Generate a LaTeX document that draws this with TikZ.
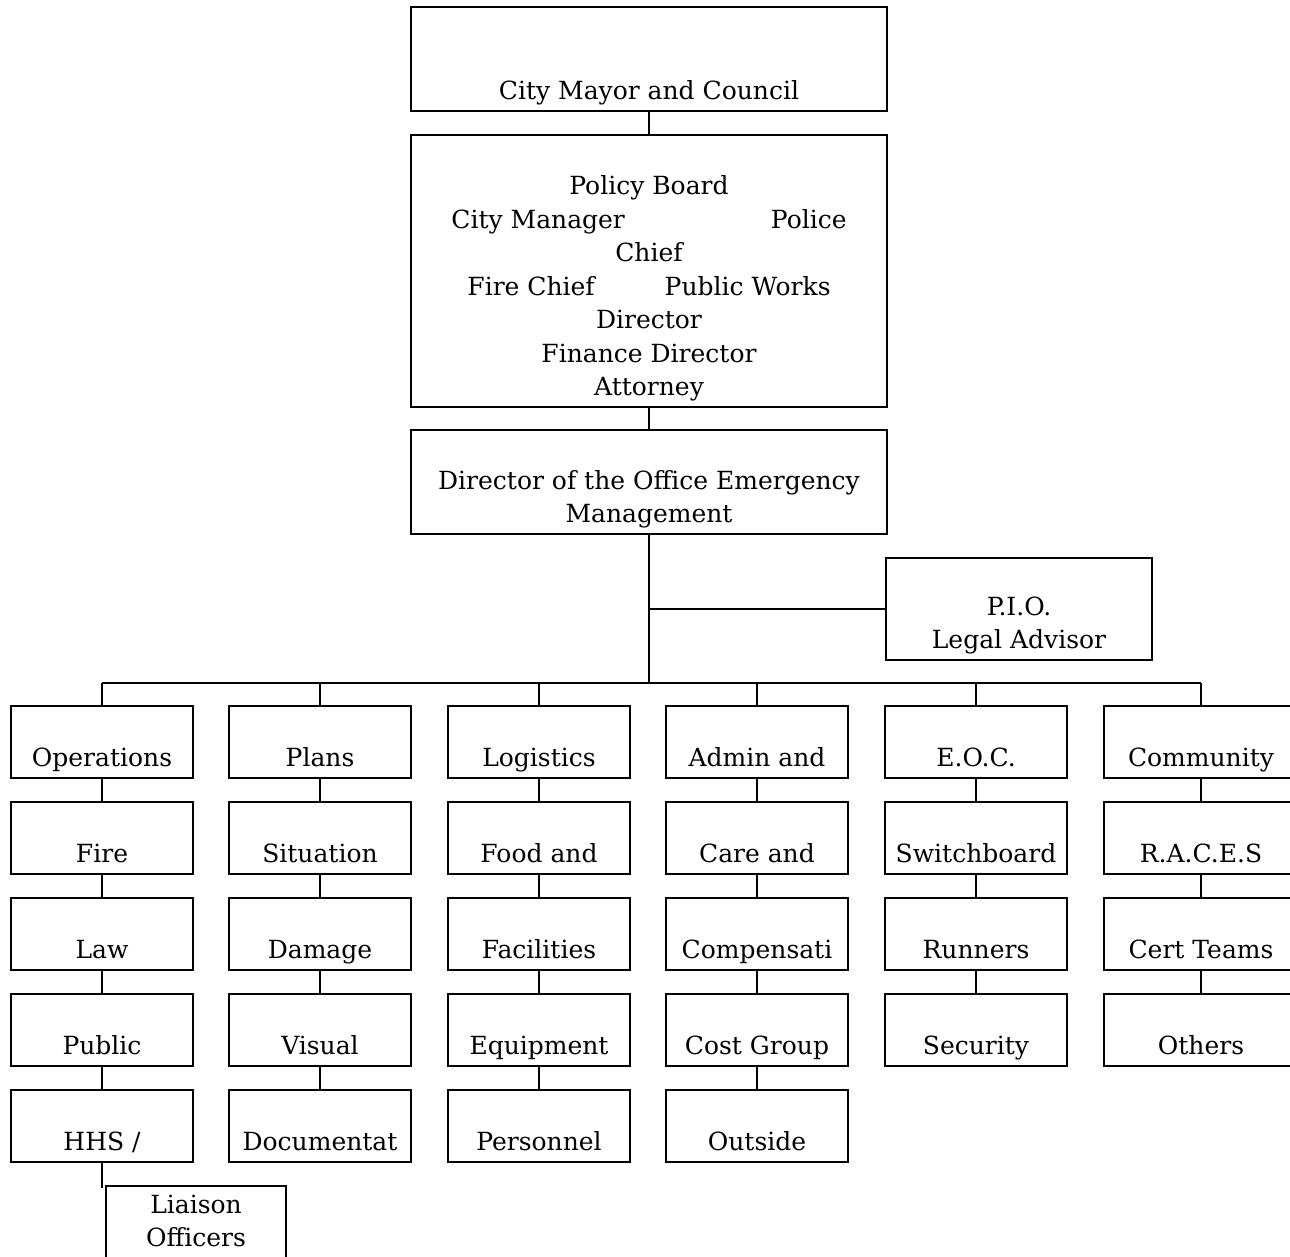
\documentclass[tikz,border=0pt]{standalone}
\usepackage{fontspec}
\setmainfont{DejaVu Serif}
\begin{document}
\begin{tikzpicture}[x=1pt,y=-1pt,
  box/.style={draw, line width=2pt, inner sep=0pt},
  lbl/.style={anchor=south, inner sep=0pt, align=center, text depth=6pt, font=\fontsize{25}{33.5}\selectfont},
  wire/.style={line width=2pt}]
\newcommand\orgbox[6]{%
  \node[box, minimum width=#4pt, minimum height=#5pt] (#1) at (#2) {};
  \node[lbl] (#1-t) at ([yshift=#6pt]#1.south) {#3};}
\useasboundingbox (0,0) rectangle (1290,1257);
\clip (0,0) rectangle (1290,1257);
% top
\orgbox{mayor}{649,59}{City Mayor and Council}{476}{104}{6}
\orgbox{policy}{649,271}{Policy Board\\City Manager\hspace{146pt}Police\\Chief\\Fire Chief\hspace{70pt}Public Works\\Director\\Finance Director\\Attorney}{476}{272}{6}
\orgbox{dir}{649,482}{Director of the Office Emergency\\Management}{476}{104}{6}
\orgbox{pio}{1019,609}{P.I.O.\\Legal Advisor}{266}{102}{6}
% column 1
\orgbox{c1a}{102,742}{Operations}{182}{72}{6}
\orgbox{c1b}{102,838}{Fire}{182}{72}{6}
\orgbox{c1c}{102,934}{Law}{182}{72}{6}
\orgbox{c1d}{102,1030}{Public}{182}{72}{6}
\orgbox{c1e}{102,1126}{HHS /}{182}{72}{6}
\orgbox{liai}{196,1222}{Liaison\\Officers}{180}{72}{6}
% column 2
\orgbox{c2a}{320,742}{Plans}{182}{72}{6}
\orgbox{c2b}{320,838}{Situation}{182}{72}{6}
\orgbox{c2c}{320,934}{Damage}{182}{72}{6}
\orgbox{c2d}{320,1030}{Visual}{182}{72}{6}
\orgbox{c2e}{320,1126}{Documentat}{182}{72}{6}
% column 3
\orgbox{c3a}{539,742}{Logistics}{182}{72}{6}
\orgbox{c3b}{539,838}{Food and}{182}{72}{6}
\orgbox{c3c}{539,934}{Facilities}{182}{72}{6}
\orgbox{c3d}{539,1030}{Equipment}{182}{72}{6}
\orgbox{c3e}{539,1126}{Personnel}{182}{72}{6}
% column 4
\orgbox{c4a}{757,742}{Admin and}{182}{72}{6}
\orgbox{c4b}{757,838}{Care and}{182}{72}{6}
\orgbox{c4c}{757,934}{Compensati}{182}{72}{6}
\orgbox{c4d}{757,1030}{Cost Group}{182}{72}{6}
\orgbox{c4e}{757,1126}{Outside}{182}{72}{6}
% column 5
\orgbox{c5a}{976,742}{E.O.C.}{182}{72}{6}
\orgbox{c5b}{976,838}{Switchboard}{182}{72}{6}
\orgbox{c5c}{976,934}{Runners}{182}{72}{6}
\orgbox{c5d}{976,1030}{Security}{182}{72}{6}
% column 6
\orgbox{c6a}{1201,742}{Community}{194}{72}{6}
\orgbox{c6b}{1201,838}{R.A.C.E.S}{194}{72}{6}
\orgbox{c6c}{1201,934}{Cert Teams}{194}{72}{6}
\orgbox{c6d}{1201,1030}{Others}{194}{72}{6}
% connectors
\coordinate (busC) at (649,683);
\coordinate (busL) at (102,683);
\coordinate (busR) at (1201,683);
\coordinate (liaiEnd) at (102,1188);
\draw[wire] (mayor.south) -- (policy.north);
\draw[wire] (policy.south) -- (dir.north);
\draw[wire] (dir.south) -- (busC);
\draw[wire] (pio.west) -- (pio.west -| dir.south);
\draw[wire] (busL) -- (busR);
\foreach \c in {c1a,c2a,c3a,c4a,c5a,c6a}{\draw[wire] (\c.north) -- (\c.north |- busC);}
\draw[wire] (c1a) -- (c1b) (c1b) -- (c1c) (c1c) -- (c1d) (c1d) -- (c1e);
\draw[wire] (c1e.south) -- (liaiEnd);
\draw[wire] (c2a) -- (c2b) (c2b) -- (c2c) (c2c) -- (c2d) (c2d) -- (c2e);
\draw[wire] (c3a) -- (c3b) (c3b) -- (c3c) (c3c) -- (c3d) (c3d) -- (c3e);
\draw[wire] (c4a) -- (c4b) (c4b) -- (c4c) (c4c) -- (c4d) (c4d) -- (c4e);
\draw[wire] (c5a) -- (c5b) (c5b) -- (c5c) (c5c) -- (c5d);
\draw[wire] (c6a) -- (c6b) (c6b) -- (c6c) (c6c) -- (c6d);
\end{tikzpicture}
\end{document}
